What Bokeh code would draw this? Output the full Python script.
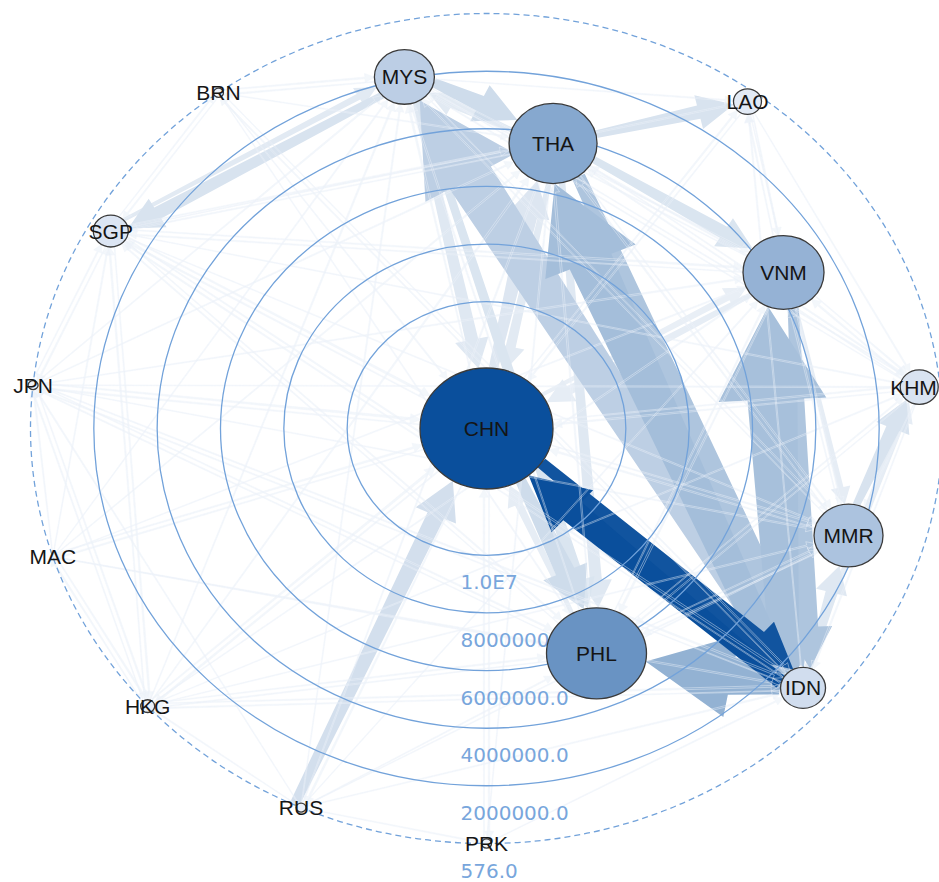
import math
from bokeh.plotting import figure
from bokeh.models import ColumnDataSource
from bokeh.embed import file_html
from bokeh.resources import INLINE
from bokeh.core.properties import value

# ---------------- data ----------------
node_names = ["CHN", "PHL", "IDN", "MMR", "KHM", "VNM", "LAO", "THA",
              "MYS", "BRN", "SGP", "JPN", "MAC", "HKG", "RUS", "PRK"]
node_value = [14.4e6, 5.86e6, 0.95e6, 2.38e6, 0.66e6, 3.57e6, 0.38e6, 4.29e6,
              1.93e6, 1200.0, 0.70e6, 2500.0, 900.0, 3000.0, 1500.0, 576.0]
node_strength = [133, 100, 45, 69, 38, 81, 28, 88, 60, 10, 35, 10, 0, 14, 10, 10]

# angular order of the outer nodes (starting at the bottom, counter-clockwise)
ring_order = ["PRK", "PHL", "IDN", "MMR", "KHM", "VNM", "LAO", "THA",
              "MYS", "BRN", "SGP", "JPN", "MAC", "HKG", "RUS"]

ring_values = [576.0, 2.0e6, 4.0e6, 6.0e6, 8.0e6, 1.0e7]
ring_labels = ["576.0", "2000000.0", "4000000.0", "6000000.0", "8000000.0", "1.0E7"]

# main flows: source, target, flow, share (colour intensity)
edge_src = ["IDN", "CHN", "IDN", "THA", "IDN", "VNM", "IDN", "IDN", "MYS", "MYS",
            "THA", "THA", "MYS", "SGP", "MYS", "CHN", "CHN", "THA", "RUS", "MMR",
            "IDN", "VNM", "THA", "VNM", "PHL", "THA", "IDN", "CHN"]
edge_dst = ["CHN", "IDN", "THA", "IDN", "VNM", "IDN", "PHL", "MYS", "PHL", "THA",
            "LAO", "VNM", "SGP", "MYS", "CHN", "THA", "PHL", "PHL", "CHN", "KHM",
            "MMR", "MMR", "MYS", "CHN", "CHN", "CHN", "KHM", "VNM"]
edge_flow = [5.4e6, 4.4e6, 9.0e6, 5.0e6, 10.0e6, 4.0e6, 8.4e6, 9.6e6, 2.6e6, 3.6e6,
             3.0e6, 2.8e6, 2.8e6, 1.4e6, 2.6e6, 3.4e6, 4.0e6, 2.4e6, 3.6e6, 2.8e6,
             2.4e6, 1.2e6, 2.0e6, 2.0e6, 1.6e6, 2.0e6, 1.6e6, 1.5e6]
edge_share = [1.00, 0.97, 0.37, 0.33, 0.36, 0.33, 0.44, 0.27, 0.15, 0.20,
              0.16, 0.15, 0.16, 0.12, 0.13, 0.14, 0.20, 0.13, 0.18, 0.16,
              0.13, 0.10, 0.12, 0.10, 0.10, 0.12, 0.10, 0.09]

# weak flows (thin web)
weak_pairs = ["JPN>CHN", "CHN>JPN", "JPN>THA", "JPN>VNM", "JPN>IDN", "JPN>PHL", "JPN>MYS",
              "JPN>SGP", "JPN>HKG", "JPN>KHM", "JPN>MMR", "MAC>CHN", "CHN>MAC", "MAC>THA",
              "MAC>PHL", "MAC>IDN", "MAC>VNM", "MAC>MYS", "MAC>HKG", "MAC>SGP", "MAC>JPN",
              "HKG>CHN", "CHN>HKG", "HKG>THA", "HKG>PHL", "HKG>IDN", "HKG>VNM", "HKG>MYS",
              "HKG>SGP", "HKG>JPN", "HKG>MAC", "HKG>KHM", "HKG>MMR", "SGP>CHN", "CHN>SGP",
              "SGP>THA", "SGP>IDN", "SGP>PHL", "SGP>VNM", "SGP>JPN", "SGP>HKG", "SGP>BRN",
              "SGP>KHM", "SGP>MMR", "SGP>LAO", "BRN>MYS", "MYS>BRN", "BRN>CHN", "BRN>THA",
              "BRN>SGP", "BRN>IDN", "BRN>PHL", "RUS>THA", "RUS>PHL", "RUS>IDN", "RUS>VNM",
              "RUS>MYS", "RUS>HKG", "RUS>JPN", "RUS>MMR", "CHN>RUS", "PRK>CHN", "CHN>PRK",
              "PRK>THA", "PRK>IDN", "RUS>PRK", "LAO>CHN", "LAO>VNM", "VNM>LAO", "LAO>KHM",
              "LAO>MMR", "MYS>LAO", "KHM>THA", "THA>KHM", "KHM>VNM", "VNM>KHM", "KHM>CHN",
              "KHM>MYS", "KHM>IDN", "KHM>PHL", "KHM>MMR", "MMR>THA", "THA>MMR", "MMR>CHN",
              "MMR>VNM", "MMR>MYS", "MMR>PHL", "VNM>THA", "VNM>PHL", "PHL>VNM", "VNM>MYS",
              "MYS>VNM", "PHL>THA", "PHL>MYS", "PHL>SGP", "PHL>HKG", "PHL>MMR", "PHL>KHM",
              "IDN>SGP", "IDN>JPN", "IDN>HKG", "IDN>LAO", "IDN>BRN", "CHN>MMR", "CHN>KHM",
              "CHN>LAO", "CHN>MYS", "MYS>KHM", "MYS>MMR", "THA>SGP", "VNM>SGP", "PHL>JPN"]
weak_flow = [0.5e6, 0.4e6, 0.35e6, 0.35e6, 0.4e6, 0.35e6, 0.35e6, 0.3e6, 0.35e6, 0.3e6, 0.3e6,
             0.4e6, 0.35e6, 0.35e6, 0.3e6, 0.35e6, 0.3e6, 0.3e6, 0.4e6, 0.3e6, 0.3e6,
             0.5e6, 0.45e6, 0.4e6, 0.35e6, 0.4e6, 0.35e6, 0.35e6, 0.35e6, 0.3e6, 0.35e6,
             0.3e6, 0.3e6, 0.5e6, 0.4e6, 0.4e6, 0.45e6, 0.35e6, 0.4e6, 0.35e6, 0.35e6,
             0.3e6, 0.3e6, 0.3e6, 0.3e6, 0.4e6, 0.35e6, 0.3e6, 0.3e6, 0.3e6, 0.3e6,
             0.3e6, 0.35e6, 0.3e6, 0.35e6, 0.3e6, 0.3e6, 0.3e6, 0.3e6, 0.3e6, 0.4e6,
             0.35e6, 0.35e6, 0.3e6, 0.3e6, 0.3e6, 0.35e6, 0.35e6, 0.35e6, 0.3e6, 0.3e6,
             0.3e6, 0.35e6, 0.35e6, 0.4e6, 0.35e6, 0.35e6, 0.3e6, 0.35e6, 0.3e6, 0.3e6,
             0.4e6, 0.35e6, 0.4e6, 0.35e6, 0.3e6, 0.3e6, 0.4e6, 0.4e6, 0.35e6, 0.35e6,
             0.35e6, 0.4e6, 0.35e6, 0.3e6, 0.3e6, 0.3e6, 0.3e6, 0.35e6, 0.3e6, 0.3e6,
             0.3e6, 0.3e6, 0.35e6, 0.35e6, 0.35e6, 0.4e6, 0.3e6, 0.3e6, 0.3e6, 0.3e6,
             0.3e6]

# ---------------- layout / style ----------------
W, H = 939, 882
CX, CY = 486, 428          # centre in canvas pixels
RX, RY = 456.0, 415.0      # pixels per radial unit (x / y)
PXU = 1.0 / RX             # one pixel in data units (x scale)
FLOW_PER_PX = 2.0e5
DARK = (10, 79, 156)
LIGHT = (238, 242, 250)
WEAK_SHARE = 0.085

vmax = max(node_value)
vmin = min(node_value)


def radius_of(v):
    return (vmax - v) / (vmax - vmin)


def mix(share, base=(255, 255, 255)):
    c = [round(base[i] * (1 - share) + DARK[i] * share) for i in range(3)]
    return "#%02x%02x%02x" % tuple(c)


pos = {}
for n, v in zip(node_names, node_value):
    r = radius_of(v)
    a = math.radians(-90 + 24 * ring_order.index(n)) if n in ring_order else 0.0
    pos[n] = (r * math.cos(a), r * math.sin(a))
rad = {n: s / 2.0 * PXU for n, s in zip(node_names, node_strength)}

all_pairs = set(zip(edge_src, edge_dst)) | set(tuple(p.split(">")) for p in weak_pairs)


def arrow_poly(s, t, w, head_extra):
    x0, y0 = pos[s]
    x1, y1 = pos[t]
    dx, dy = x1 - x0, y1 - y0
    L = math.hypot(dx, dy)
    ux, uy = dx / L, dy / L
    nx, ny = -uy, ux
    off = (0.3 * w + 2 * PXU) if (t, s) in all_pairs else 0.0
    r0, r1 = rad[s], rad[t]
    a0 = math.sqrt(max(r0 * r0 - off * off, 0.0))
    a1 = math.sqrt(max(r1 * r1 - off * off, 0.0))
    sx, sy = x0 + ux * a0 + nx * off, y0 + uy * a0 + ny * off
    tx, ty = x1 - ux * a1 + nx * off, y1 - uy * a1 + ny * off
    avail = L - a0 - a1
    hw = 2.0 * w + head_extra * PXU
    hl = min(0.95 * hw, 0.7 * avail)
    bx, by = tx - ux * hl, ty - uy * hl
    w0 = 0.55 * w
    xs = [sx + nx * w0 / 2, bx + nx * w / 2, bx + nx * hw / 2, tx,
          bx - nx * hw / 2, bx - nx * w / 2, sx - nx * w0 / 2]
    ys = [sy + ny * w0 / 2, by + ny * w / 2, by + ny * hw / 2, ty,
          by - ny * hw / 2, by - ny * w / 2, sy - ny * w0 / 2]
    return xs, ys


p = figure(width=W, height=H, output_backend="svg", toolbar_location=None,
           x_range=(-CX / RX, (W - CX) / RX), y_range=(-(H - CY) / RY, CY / RY),
           x_axis_location=None, y_axis_location=None, min_border=0)
p.grid.grid_line_color = None
p.outline_line_color = None
p.background_fill_color = "white"
p.border_fill_color = "white"

# weak flows web (underneath)
wx, wy = [], []
for pair, f in zip(weak_pairs, weak_flow):
    s, t = pair.split(">")
    xs, ys = arrow_poly(s, t, f / FLOW_PER_PX * PXU, 6)
    wx.append(xs)
    wy.append(ys)
p.patches("xs", "ys", source=ColumnDataSource(dict(xs=wx, ys=wy)),
          fill_color=mix(WEAK_SHARE), fill_alpha=0.55, line_color=None)

# main flows (lighter first)
order = sorted(range(len(edge_src)), key=lambda i: edge_share[i])
mx, my, mc = [], [], []
for i in order:
    xs, ys = arrow_poly(edge_src[i], edge_dst[i], edge_flow[i] / FLOW_PER_PX * PXU, 8)
    mx.append(xs)
    my.append(ys)
    mc.append(mix(edge_share[i]))
p.patches("xs", "ys", source=ColumnDataSource(dict(xs=mx, ys=my, c=mc)),
          fill_color="c", line_color=None)

# thin light strokes crossing the broad flows
p.patches("xs", "ys", source=ColumnDataSource(dict(xs=wx, ys=wy)),
          fill_color=None, line_color="#eef3fa", line_alpha=0.55, line_width=0.8)

# radial grid
ring_r = [radius_of(v) for v in ring_values]
GRID = "#72a2da"
p.ellipse(x=[0] * (len(ring_r) - 1), y=[0] * (len(ring_r) - 1),
          width=[2 * r for r in ring_r[1:]], height=[2 * r for r in ring_r[1:]],
          fill_alpha=0, line_color=GRID, line_width=1.3)
p.ellipse(x=[0], y=[0], width=[2 * ring_r[0]], height=[2 * ring_r[0]],
          fill_alpha=0, line_color=GRID, line_width=1.3, line_dash="6 4")

p.text(x=[-26 * PXU] * len(ring_r), y=[-r - 27.0 / RY for r in ring_r], text=ring_labels,
       text_align="left", text_baseline="middle", text_color="#78a6dc",
       text_font=value("DejaVu Sans"), text_font_size="20px")

# nodes
nx_, ny_, nd, ncol = [], [], [], []
smax = max(node_strength)
for n, s in zip(node_names, node_strength):
    if s <= 0:
        continue
    tshade = (s / smax) ** 1.9
    nx_.append(pos[n][0])
    ny_.append(pos[n][1])
    nd.append(s * PXU)
    ncol.append(mix(tshade, LIGHT))
p.ellipse(x="x", y="y", width="d", height="d",
          source=ColumnDataSource(dict(x=nx_, y=ny_, d=nd, c=ncol)),
          fill_color="c", line_color="#3a3a3a", line_width=1.3)

# node labels (kept inside the canvas edge)
lab_x = [min(pos[n][0], (W - CX - 26) / RX) for n in node_names]
p.text(x=lab_x, y=[pos[n][1] for n in node_names],
       text=node_names, text_align="center", text_baseline="middle",
       text_color="#151515", text_font=value("Liberation Sans"), text_font_size="21px")

open("out.html", "w").write(file_html(p, INLINE))
